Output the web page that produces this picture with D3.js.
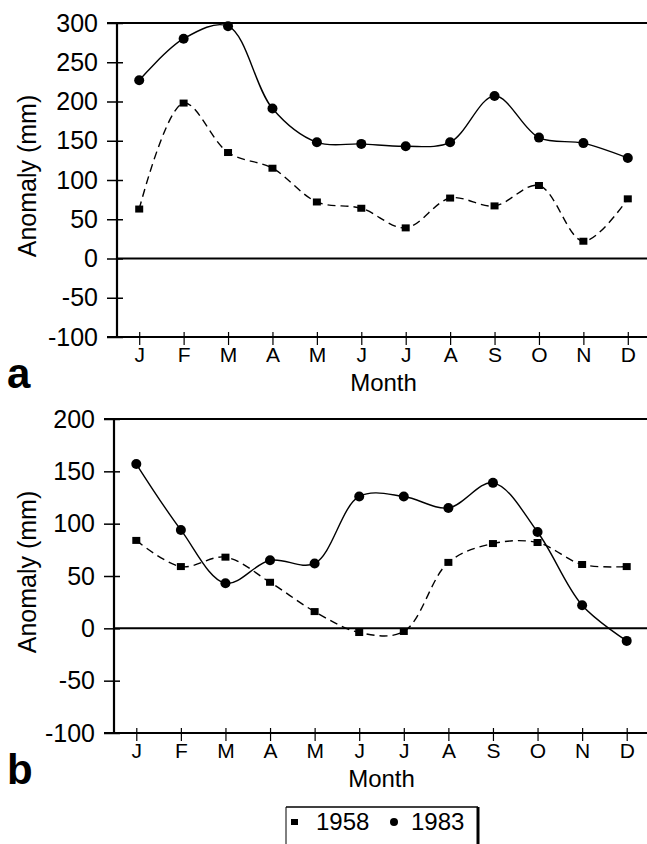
<!DOCTYPE html>
<html>
<head>
<meta charset="utf-8">
<script src="https://cdn.jsdelivr.net/npm/d3@7"></script>
<style>
  body { margin: 0; background: #fff; }
  svg { display: block; }
  text { font-family: "Liberation Sans", Arial, Helvetica, sans-serif; fill: #000; }
</style>
</head>
<body>
<div id="chart"></div>
<script>
// month labels along the x axis
var months = ["J", "F", "M", "A", "M", "J", "J", "A", "S", "O", "N", "D"];

// panel a values (mm)
var a1958 = [63, 198, 135, 115, 72, 64, 39, 77, 67, 93, 22, 76];
var a1983 = [227, 280, 296, 191, 148, 146, 143, 148, 207, 154, 147, 128];

// panel b values (mm)
var b1958 = [84, 59, 68, 44, 16, -4, -3, 63, 81, 82, 61, 59];
var b1983 = [157, 94, 43, 65, 62, 126, 126, 115, 139, 92, 22, -12];

// tick labels for each panel
var ticksA = [-100, -50, 0, 50, 100, 150, 200, 250, 300];
var ticksB = [-100, -50, 0, 50, 100, 150, 200];

var legendNames = ["1958", "1983"];

var width = 647, height = 844;

var svg = d3.select("#chart")
  .append("svg")
  .attr("width", width)
  .attr("height", height);

var panels = [
  { label: "a", s1958: a1958, s1983: a1983, ticks: ticksA, left: 117, right: 650, top: 23, bottom: 337 },
  { label: "b", s1958: b1958, s1983: b1983, ticks: ticksB, left: 114, right: 649, top: 419, bottom: 733 }
];

function drawPanel(p) {
  var g = svg.append("g");

  var x = d3.scalePoint()
    .domain(d3.range(months.length))
    .range([p.left, p.right])
    .padding(0.5);

  var y = d3.scaleLinear()
    .domain([d3.min(p.ticks), d3.max(p.ticks)])
    .range([p.bottom, p.top]);

  // y axis, ticks cross the axis line; plain hyphen for negatives like the original
  var yAxis = g.append("g")
    .attr("transform", "translate(" + p.left + ",0)")
    .call(d3.axisLeft(y).tickValues(p.ticks).tickFormat(function (d) { return String(d); })
      .tickSize(10).tickSizeOuter(0).tickPadding(9));
  yAxis.select(".domain").remove();
  yAxis.selectAll(".tick line").attr("x1", 6).attr("stroke-width", 1.5);
  yAxis.selectAll(".tick text").attr("font-size", 25).attr("font-family", "Liberation Sans, Arial, sans-serif");

  // x axis
  var xAxis = g.append("g")
    .attr("transform", "translate(0," + p.bottom + ")")
    .call(d3.axisBottom(x).tickFormat(function (i) { return months[i]; }).tickSize(8).tickSizeOuter(0).tickPadding(2));
  xAxis.select(".domain").remove();
  xAxis.selectAll(".tick line").attr("y1", -5).attr("stroke-width", 1.2);
  xAxis.selectAll(".tick text").attr("font-size", 21).attr("font-family", "Liberation Sans, Arial, sans-serif");

  // frame: left, bottom, top and the zero line
  g.append("line").attr("x1", p.left).attr("x2", p.left).attr("y1", p.top).attr("y2", p.bottom)
    .attr("stroke", "#000").attr("stroke-width", 2.2);
  g.append("line").attr("x1", p.left - 10).attr("x2", width).attr("y1", p.bottom).attr("y2", p.bottom)
    .attr("stroke", "#000").attr("stroke-width", 2.2);
  g.append("line").attr("x1", p.left - 10).attr("x2", width).attr("y1", p.top).attr("y2", p.top)
    .attr("stroke", "#000").attr("stroke-width", 2.2);
  g.append("line").attr("x1", p.left).attr("x2", width).attr("y1", y(0)).attr("y2", y(0))
    .attr("stroke", "#000").attr("stroke-width", 2);

  var line = d3.line()
    .x(function (d, i) { return x(i); })
    .y(function (d) { return y(d); })
    .curve(d3.curveCatmullRom.alpha(0.5));

  g.append("path")
    .datum(p.s1958)
    .attr("d", line)
    .attr("fill", "none")
    .attr("stroke", "#000")
    .attr("stroke-width", 1.4)
    .attr("stroke-dasharray", "8,5");

  g.append("path")
    .datum(p.s1983)
    .attr("d", line)
    .attr("fill", "none")
    .attr("stroke", "#000")
    .attr("stroke-width", 1.4);

  g.selectAll(".sq")
    .data(p.s1958)
    .enter()
    .append("rect")
      .attr("x", function (d, i) { return x(i) - 4; })
      .attr("y", function (d) { return y(d) - 3.5; })
      .attr("width", 8)
      .attr("height", 7)
      .attr("fill", "#000");

  g.selectAll(".dot")
    .data(p.s1983)
    .enter()
    .append("circle")
      .attr("cx", function (d, i) { return x(i); })
      .attr("cy", function (d) { return y(d); })
      .attr("r", 5)
      .attr("fill", "#000");

  // axis titles
  g.append("text")
    .attr("transform", "translate(36," + ((p.top + p.bottom) / 2 - 4) + ") rotate(-90)")
    .attr("text-anchor", "middle")
    .attr("font-size", 25)
    .text("Anomaly (mm)");

  g.append("text")
    .attr("x", (p.left + p.right) / 2)
    .attr("y", p.bottom + 54)
    .attr("text-anchor", "middle")
    .attr("font-size", 24)
    .text("Month");

  // panel letter
  g.append("text")
    .attr("x", 7)
    .attr("y", p.bottom + 51)
    .attr("font-size", 42)
    .attr("font-weight", "bold")
    .text(p.label);
}

panels.forEach(drawPanel);

// legend box at the bottom
var lg = svg.append("g");
lg.append("line").attr("x1", 286).attr("x2", 478).attr("y1", 807).attr("y2", 807).attr("stroke", "#000").attr("stroke-width", 1.5);
lg.append("line").attr("x1", 286).attr("x2", 286).attr("y1", 807).attr("y2", height).attr("stroke", "#000").attr("stroke-width", 1);
lg.append("line").attr("x1", 478).attr("x2", 478).attr("y1", 807).attr("y2", height).attr("stroke", "#000").attr("stroke-width", 3);

lg.append("rect").attr("x", 291).attr("y", 819).attr("width", 7).attr("height", 6).attr("fill", "#000");
lg.append("text").attr("x", 316).attr("y", 830).attr("font-size", 24).text(legendNames[0]);
lg.append("circle").attr("cx", 394).attr("cy", 822).attr("r", 4).attr("fill", "#000");
lg.append("text").attr("x", 411).attr("y", 830).attr("font-size", 24).text(legendNames[1]);
</script>
</body>
</html>
